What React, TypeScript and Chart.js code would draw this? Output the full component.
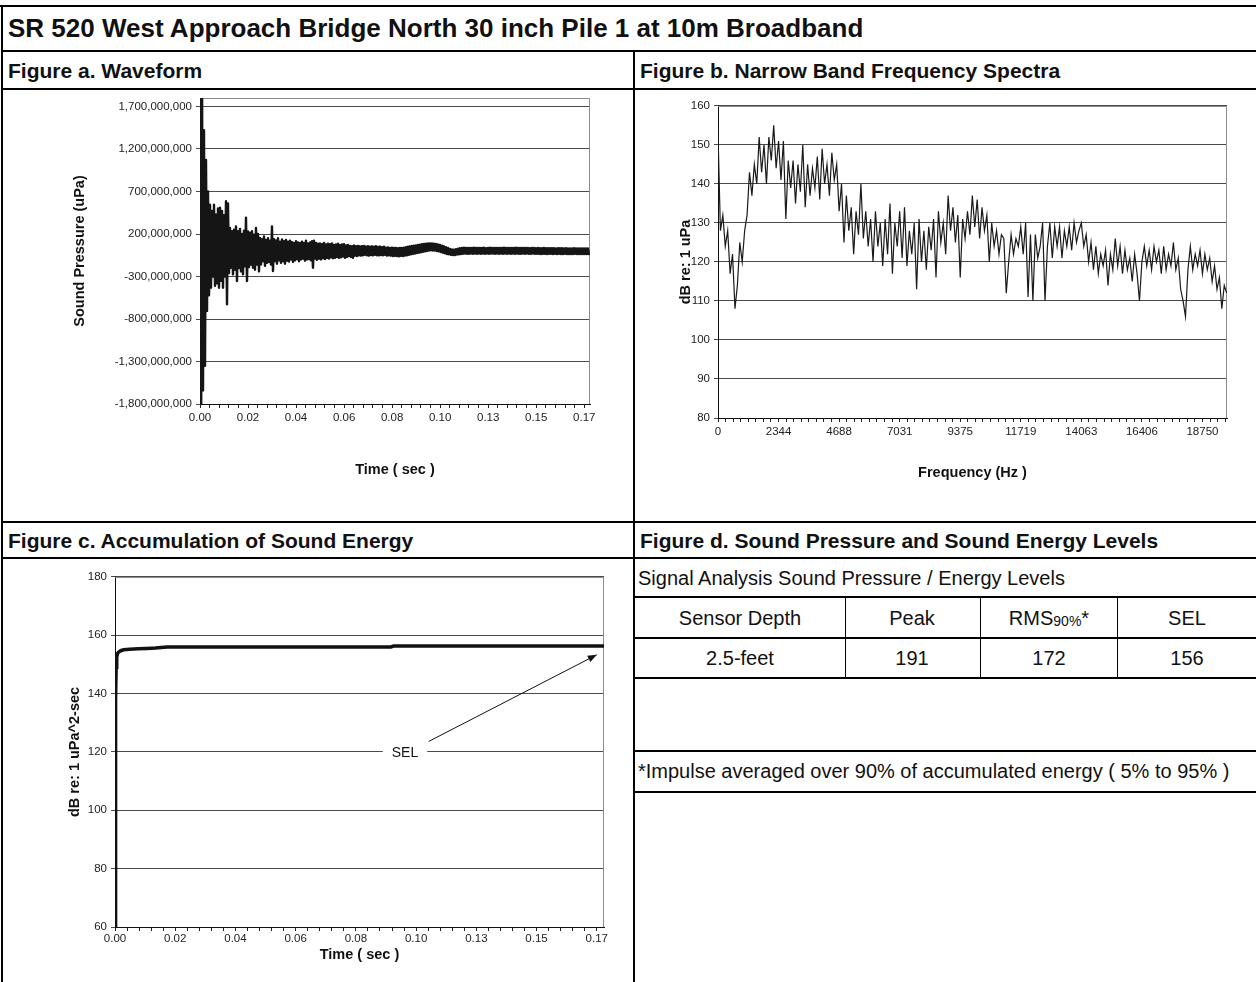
import React, { useEffect, useRef } from "react";
import { Chart, registerables } from "chart.js";

Chart.register(...registerables);

const FONT = "'Liberation Sans', Arial, Helvetica, sans-serif";

// ---------- Figure a: waveform (values in millions of uPa, alternating peaks/troughs) ----------
const waveformStepSec = 0.000434;
const waveformMillionUPa = [
  3500, -2900, 2200, -1640, 1420, -1350, 1070, -705, 700, -520,
  545, -431, 470, -300, 545, -410, 430, -380, 500, -431,
  508, -350, 470, -431, 420, -300, 586, -626, 560, -260,
  271, -197, 232, -275, 250, -220, 290, -353, 232, -200,
  260, -240, 200, -275, 240, -180, 392, -353, 230, -190,
  215, -160, 232, -197, 193, -220, 271, -160, 200, -240,
  154, -158, 140, -120, 170, -175, 130, -140, 150, -130,
  120, -160, 290, -236, 140, -120, 125, -150, 150, -110,
  110, -140, 135, -120, 115, -150, 130, -115, 110, -125,
  120, -100, 105, -130, 96, -110, 115, -95, 100, -120,
  95, -100, 110, -90, 96, -115, 120, -100, 90, -95,
  100, -110, 115, -197, 120, -90, 95, -105, 85, -90,
  90, -100, 80, -85, 96, -95, 76, -80, 85, -90,
  80, -75, 90, -85, 70, -80, 76, -70, 85, -80,
  70, -75, 76, -65, 80, -80, 65, -70, 70, -60,
  60, -70, 57, -80, 65, -55, 57, -60, 60, -50,
  55, -55, 57, -50, 60, -45, 52, -50, 57, -55,
  50, -47, 55, -52, 50, -45, 57, -50, 48, -52,
  52, -48, 45, -50, 50, -45, 40, -55, 42, -50,
  37, -55, 40, -60, 35, -58, 37, -60, 33, -62,
  37, -58, 35, -60, 40, -55, 45, -50, 50, -45,
  55, -40, 60, -35, 62, -30, 66, -25, 70, -20,
  75, -15, 80, -10, 84, -5, 86, 0, 88, 5,
  90, 8, 88, 6, 86, 4, 82, 0, 76, -5,
  70, -12, 62, -20, 55, -28, 45, -35, 35, -40,
  25, -45, 18, -47, 15, -47, 20, -42, 28, -38,
  33, -35, 37, -33, 38, -31, 37, -33, 36, -32,
  37, -31, 35, -33, 38, -30, 36, -32, 37, -31,
  35, -33, 37, -30, 38, -32, 34, -31, 36, -33,
  38, -30, 35, -31, 37, -33, 36, -30, 35, -32,
  37, -31, 36, -33, 38, -30, 35, -32, 37, -31,
  36, -33, 35, -30, 37, -32, 38, -31, 36, -33,
  35, -32, 37, -30, 36, -33, 35, -31, 37, -32,
  34, -33, 36, -31, 35, -34, 33, -32, 35, -33,
  34, -35, 33, -33, 35, -34, 32, -35, 34, -33,
  33, -34, 32, -35, 34, -33, 31, -36, 33, -34,
  32, -35, 33, -36, 31, -34, 32, -35, 30, -36,
  31, -35, 30, -36, 32, -34, 31, -36, 30, -35,
  31, -36, 30, -35, 29, -36, 31, -35, 30, -36,
];
const pressureAxisMin = -1800000000;
const pressureAxisMax = 1800000000;
const pressureTicks = [-1800000000, -1300000000, -800000000, -300000000, 200000000, 700000000, 1200000000, 1700000000];

// shared time axis (Excel category labels)
const timeLabelStepSec = 0.02085;
const timeMinorPerLabel = 5;
const timeAxisMaxSec = 0.1693;

// ---------- Figure b: narrow band spectrum ----------
const spectrumStepHz = 93.75;
const spectrumDb = [
  153, 128, 132, 124, 128, 117, 122, 108, 114, 125,
  120, 128, 132, 143, 137, 145, 140, 152, 143, 150,
  140, 152, 146, 155, 144, 151, 141, 151, 131, 146,
  139, 146, 135, 145, 138, 150, 134, 145, 137, 144,
  139, 147, 136, 149, 140, 145, 137, 148, 141, 145,
  133, 140, 125, 137, 128, 134, 122, 133, 127, 140,
  126, 133, 124, 131, 120, 133, 124, 130, 119, 131,
  122, 135, 117, 130, 124, 133, 121, 134, 119, 128,
  122, 130, 113, 131, 120, 128, 118, 129, 123, 131,
  116, 133, 125, 130, 122, 137, 128, 134, 125, 132,
  116, 131, 126, 133, 127, 137, 129, 136, 126, 134,
  128, 132, 120, 130, 124, 128, 122, 127, 126, 112,
  120, 127, 122, 126, 124, 129, 122, 130, 111, 127,
  110, 127, 121, 124, 130, 110, 124, 130, 121, 129,
  124, 129, 121, 128, 124, 129, 123, 130, 125, 128,
  130, 124, 127, 120, 125, 118, 124, 117, 122, 119,
  123, 114, 122, 118, 126, 119, 124, 117, 123, 118,
  121, 115, 122, 117, 110, 120, 124, 119, 123, 118,
  124, 120, 123, 117, 124, 118, 122, 119, 125, 118,
  121, 113, 110, 106, 118, 124, 118, 122, 119, 123,
  117, 122, 118, 121, 115, 119, 113, 116, 108, 114, 112,
];
const freqLabelStepHz = 2343.75;
const freqMinorPerLabel = 8;
const freqAxisMaxHz = 19700;
const spectrumTicksDb = [80, 90, 100, 110, 120, 130, 140, 150, 160];

// ---------- Figure c: accumulated sound energy ----------
const selTimeSec = [0, 0.0002, 0.0004, 0.0006, 0.0009, 0.0014, 0.002, 0.003, 0.005, 0.008, 0.011, 0.014, 0.018, 0.04, 0.07, 0.0955, 0.0965, 0.13, 0.1693];
const selCurveDb = [60, 138.5, 149, 152.5, 153.8, 154.3, 154.7, 155.0, 155.2, 155.4, 155.5, 155.6, 156.0, 156.0, 156.0, 156.0, 156.3, 156.3, 156.3];
const selTicksDb = [60, 80, 100, 120, 140, 160, 180];
const selNoteText = "SEL";
const selNoteLabel = { t: 0.1004, db: 120 };
const selNoteArrowFrom = { t: 0.1086, db: 123.6 };
const selNoteArrowTo = { t: 0.1668, db: 153.3 };

// ---------- Figure d: table ----------
const tableCaption = "Signal Analysis Sound Pressure / Energy Levels";
const tableHeaders = ["Sensor Depth", "Peak", "RMS", "SEL"];
const tableValues = ["2.5-feet", "191", "172", "156"];
const footnote = "*Impulse averaged over 90% of accumulated energy ( 5% to 95% )";

// ---------- helpers ----------
const TICK_FONT = { family: FONT, size: 11.5 };

function minorTicks(step: number, perLabel: number, max: number) {
  const out: number[] = [];
  const minor = step / perLabel;
  for (let k = 0; k * minor <= max + 1e-9; k++) out.push((k / perLabel) * step);
  return out;
}
function isMajor(v: number, step: number) {
  const r = v / step;
  return Math.abs(r - Math.round(r)) < 1e-6;
}

type Rect = { left: number; top: number; right: number; bottom: number };

const framePlugin = {
  id: "plotFrame",
  beforeDatasetsDraw(chart: any) {
    const { ctx, chartArea } = chart;
    const { left, top, right, bottom } = chartArea;
    ctx.save();
    ctx.strokeStyle = "#8c8c8c";
    ctx.lineWidth = 1;
    ctx.beginPath();
    ctx.moveTo(left, Math.round(top) + 0.5);
    ctx.lineTo(Math.round(right) - 0.5, Math.round(top) + 0.5);
    ctx.lineTo(Math.round(right) - 0.5, bottom);
    ctx.stroke();
    ctx.restore();
  },
};

const selNotePlugin = {
  id: "selNote",
  afterDatasetsDraw(chart: any) {
    const xs = chart.scales.x;
    const ys = chart.scales.y;
    const ctx = chart.ctx;
    const x0 = xs.getPixelForValue(selNoteArrowFrom.t);
    const y0 = ys.getPixelForValue(selNoteArrowFrom.db);
    const x1 = xs.getPixelForValue(selNoteArrowTo.t);
    const y1 = ys.getPixelForValue(selNoteArrowTo.db);
    ctx.save();
    ctx.strokeStyle = "#111";
    ctx.fillStyle = "#111";
    ctx.lineWidth = 1;
    ctx.beginPath();
    ctx.moveTo(x0, y0);
    ctx.lineTo(x1, y1);
    ctx.stroke();
    const ang = Math.atan2(y1 - y0, x1 - x0);
    const len = 9;
    const wid = 3.5;
    ctx.beginPath();
    ctx.moveTo(x1, y1);
    ctx.lineTo(x1 - len * Math.cos(ang) + wid * Math.sin(ang), y1 - len * Math.sin(ang) - wid * Math.cos(ang));
    ctx.lineTo(x1 - len * Math.cos(ang) - wid * Math.sin(ang), y1 - len * Math.sin(ang) + wid * Math.cos(ang));
    ctx.closePath();
    ctx.fill();
    const lx = xs.getPixelForValue(selNoteLabel.t);
    const ly = ys.getPixelForValue(selNoteLabel.db);
    ctx.font = `14px ${FONT}`;
    const w = ctx.measureText(selNoteText).width;
    ctx.fillStyle = "#fff";
    ctx.fillRect(lx - w / 2 - 9, ly - 8, w + 18, 16);
    ctx.fillStyle = "#111";
    ctx.textAlign = "center";
    ctx.textBaseline = "middle";
    ctx.fillText(selNoteText, lx, ly + 1);
    ctx.restore();
  },
};

function makeScales(opts: {
  canvas: Rect;
  plot: Rect;
  xTicks: number[];
  xFormat: (v: number) => string;
  xMax: number;
  yMin: number;
  yMax: number;
  yTicks: number[];
  yFormat: (v: number) => string;
  xTitle: string;
  yTitle: string;
  xTitleY: number;
  yTitleX: number;
  xTickPad: number;
}) {
  const { canvas, plot } = opts;
  const titleFont = { family: FONT, size: 14.5, weight: "bold" as const, lineHeight: 1.2 };
  const half = (14.5 * 1.2) / 2;
  return {
    x: {
      type: "linear" as const,
      min: 0,
      max: opts.xMax,
      afterBuildTicks: (s: any) => {
        s.ticks = opts.xTicks.map((v) => ({ value: v }));
      },
      afterFit: (s: any) => {
        s.height = canvas.bottom - plot.bottom;
      },
      ticks: {
        autoSkip: false,
        maxRotation: 0,
        minRotation: 0,
        padding: opts.xTickPad,
        color: "#222",
        font: TICK_FONT,
        callback: (v: any) => opts.xFormat(Number(v)),
      },
      grid: { drawOnChartArea: false, drawTicks: true, tickLength: 4, color: "#222", lineWidth: 1 },
      border: { display: true, color: "#111", width: 1 },
      title: {
        display: true,
        text: opts.xTitle,
        color: "#111",
        font: titleFont,
        padding: { top: 0, bottom: canvas.bottom - opts.xTitleY - half },
      },
    },
    y: {
      type: "linear" as const,
      min: opts.yMin,
      max: opts.yMax,
      afterBuildTicks: (s: any) => {
        s.ticks = opts.yTicks.map((v) => ({ value: v }));
      },
      afterFit: (s: any) => {
        s.width = plot.left - canvas.left;
      },
      ticks: {
        padding: 4,
        color: "#222",
        font: TICK_FONT,
        callback: (v: any) => opts.yFormat(Number(v)),
      },
      grid: { drawOnChartArea: true, drawTicks: true, tickLength: 4, color: "#4a4a4a", lineWidth: 1 },
      border: { display: true, color: "#111", width: 1 },
      title: {
        display: true,
        text: opts.yTitle,
        color: "#111",
        font: titleFont,
        padding: { top: opts.yTitleX - canvas.left - half, bottom: 0 },
      },
    },
  };
}

function ChartCanvas({ canvas, plot, build }: { canvas: Rect; plot: Rect; build: () => any }) {
  const ref = useRef<HTMLCanvasElement | null>(null);
  useEffect(() => {
    if (!ref.current) return;
    const cfg = build();
    cfg.options = {
      ...cfg.options,
      responsive: false,
      maintainAspectRatio: false,
      animation: false,
      devicePixelRatio: 1,
      events: [],
      layout: {
        padding: {
          left: 0,
          top: plot.top - canvas.top,
          right: canvas.right - plot.right,
          bottom: 0,
        },
      },
      plugins: { legend: { display: false }, tooltip: { enabled: false }, title: { display: false } },
    };
    const chart = new Chart(ref.current, cfg);
    return () => chart.destroy();
  }, []);
  const w = canvas.right - canvas.left;
  const h = canvas.bottom - canvas.top;
  return (
    <canvas
      ref={ref}
      width={w}
      height={h}
      style={{ position: "absolute", left: canvas.left, top: canvas.top, width: w, height: h, display: "block" }}
    />
  );
}

// ---------- chart configs ----------
const waveCanvas: Rect = { left: 56, top: 86, right: 606, bottom: 486 };
const wavePlot: Rect = { left: 200, top: 98, right: 590, bottom: 404 };

function buildWaveform() {
  const data = waveformMillionUPa.map((v, i) => ({ x: i * waveformStepSec, y: v * 1000000 }));
  return {
    type: "line",
    data: {
      datasets: [
        {
          data,
          borderColor: "#151515",
          borderWidth: 2.4,
          borderJoinStyle: "round",
          borderCapStyle: "round",
          pointRadius: 0,
          tension: 0,
          fill: false,
        },
      ],
    },
    options: {
      scales: makeScales({
        canvas: waveCanvas,
        plot: wavePlot,
        xTicks: minorTicks(timeLabelStepSec, timeMinorPerLabel, timeAxisMaxSec),
        xFormat: (v) => (isMajor(v, timeLabelStepSec) ? v.toFixed(2) : ""),
        xMax: timeAxisMaxSec,
        yMin: pressureAxisMin,
        yMax: pressureAxisMax,
        yTicks: pressureTicks,
        yFormat: (v) => Math.round(v).toLocaleString("en-US"),
        xTitle: "Time ( sec )",
        yTitle: "Sound Pressure (uPa)",
        xTitleY: 470,
        yTitleX: 80,
        xTickPad: 3,
      }),
    },
    plugins: [framePlugin],
  };
}

const specCanvas: Rect = { left: 668, top: 95, right: 1242, bottom: 488 };
const specPlot: Rect = { left: 718, top: 105, right: 1227, bottom: 418 };

function buildSpectrum() {
  const data = spectrumDb.map((v, i) => ({ x: i * spectrumStepHz, y: v }));
  return {
    type: "line",
    data: {
      datasets: [{ data, borderColor: "#1a1a1a", borderWidth: 1.2, pointRadius: 0, tension: 0, fill: false }],
    },
    options: {
      scales: makeScales({
        canvas: specCanvas,
        plot: specPlot,
        xTicks: minorTicks(freqLabelStepHz, freqMinorPerLabel, freqAxisMaxHz),
        xFormat: (v) => (isMajor(v, freqLabelStepHz) ? String(Math.round(v)) : ""),
        xMax: freqAxisMaxHz,
        yMin: 80,
        yMax: 160,
        yTicks: spectrumTicksDb,
        yFormat: (v) => String(v),
        xTitle: "Frequency (Hz )",
        yTitle: "dB re: 1 uPa",
        xTitleY: 473,
        yTitleX: 686,
        xTickPad: 3,
      }),
    },
    plugins: [framePlugin],
  };
}

const selCanvas: Rect = { left: 52, top: 566, right: 620, bottom: 966 };
const selPlot: Rect = { left: 115, top: 576, right: 604, bottom: 927 };

function buildSel() {
  const data = selTimeSec.map((t, i) => ({ x: t, y: selCurveDb[i] }));
  return {
    type: "line",
    data: {
      datasets: [{ data, borderColor: "#111", borderWidth: 3.5, pointRadius: 0, tension: 0, fill: false }],
    },
    options: {
      scales: makeScales({
        canvas: selCanvas,
        plot: selPlot,
        xTicks: minorTicks(timeLabelStepSec, timeMinorPerLabel, timeAxisMaxSec),
        xFormat: (v) => (isMajor(v, timeLabelStepSec) ? v.toFixed(2) : ""),
        xMax: timeAxisMaxSec,
        yMin: 60,
        yMax: 180,
        yTicks: selTicksDb,
        yFormat: (v) => String(v),
        xTitle: "Time ( sec )",
        yTitle: "dB re: 1 uPa^2-sec",
        xTitleY: 955,
        yTitleX: 75,
        xTickPad: 1,
      }),
    },
    plugins: [framePlugin, selNotePlugin],
  };
}

// ---------- layout pieces ----------
function HLine({ x1, x2, y, w = 2 }: { x1: number; x2: number; y: number; w?: number }) {
  return <div style={{ position: "absolute", left: x1, top: y, width: x2 - x1, height: w, background: "#000" }} />;
}
function VLine({ x, y1, y2, w = 2 }: { x: number; y1: number; y2: number; w?: number }) {
  return <div style={{ position: "absolute", left: x, top: y1, width: w, height: y2 - y1, background: "#000" }} />;
}
function Txt({
  x,
  y,
  size,
  bold,
  center,
  children,
}: {
  x: number;
  y: number;
  size: number;
  bold?: boolean;
  center?: boolean;
  children: React.ReactNode;
}) {
  const lh = Math.round(size * 1.3);
  return (
    <div
      style={{
        position: "absolute",
        left: center ? x - 200 : x,
        width: center ? 400 : undefined,
        textAlign: center ? "center" : "left",
        top: y - lh / 2,
        height: lh,
        lineHeight: `${lh}px`,
        fontSize: size,
        fontWeight: bold ? 700 : 400,
        whiteSpace: "nowrap",
        color: "#111",
      }}
    >
      {children}
    </div>
  );
}

const colCenters = [740, 912, 1049, 1187];

export default function App() {
  return (
    <div
      style={{
        position: "absolute",
        left: 0,
        top: 0,
        width: 1256,
        height: 982,
        background: "#fff",
        fontFamily: FONT,
        overflow: "hidden",
      }}
    >
      {/* frame lines */}
      <HLine x1={0} x2={1256} y={5} />
      <VLine x={1} y1={5} y2={982} />
      <HLine x1={1} x2={1256} y={50} />
      <HLine x1={1} x2={1256} y={88} />
      <VLine x={633} y1={50} y2={982} />
      <HLine x1={1} x2={1256} y={521} />
      <HLine x1={1} x2={1256} y={557} />
      <HLine x1={633} x2={1256} y={596} />
      <HLine x1={633} x2={1256} y={637} />
      <HLine x1={633} x2={1256} y={677} />
      <HLine x1={633} x2={1256} y={750} />
      <HLine x1={633} x2={1256} y={791} />
      <VLine x={845} y1={596} y2={678} w={1} />
      <VLine x={980} y1={596} y2={678} w={1} />
      <VLine x={1117} y1={596} y2={678} w={1} />

      {/* titles */}
      <Txt x={8} y={28} size={26} bold>
        SR 520 West Approach Bridge North 30 inch Pile 1 at 10m Broadband
      </Txt>
      <Txt x={8} y={70} size={21} bold>
        Figure a. Waveform
      </Txt>
      <Txt x={640} y={70} size={21} bold>
        Figure b. Narrow Band Frequency Spectra
      </Txt>
      <Txt x={8} y={540} size={21} bold>
        Figure c. Accumulation of Sound Energy
      </Txt>
      <Txt x={640} y={540} size={21} bold>
        Figure d. Sound Pressure and Sound Energy Levels
      </Txt>

      {/* table */}
      <Txt x={638} y={578} size={20}>
        {tableCaption}
      </Txt>
      {tableHeaders.map((h, i) => (
        <Txt key={"h" + i} x={colCenters[i]} y={618} size={20} center>
          {h === "RMS" ? (
            <span>
              RMS<span style={{ fontSize: 14, position: "relative", top: 1 }}>90%</span>*
            </span>
          ) : (
            h
          )}
        </Txt>
      ))}
      {tableValues.map((v, i) => (
        <Txt key={"v" + i} x={colCenters[i]} y={658} size={20} center>
          {v}
        </Txt>
      ))}
      <Txt x={638} y={771} size={20}>
        {footnote}
      </Txt>

      {/* charts */}
      <ChartCanvas canvas={waveCanvas} plot={wavePlot} build={buildWaveform} />
      <ChartCanvas canvas={specCanvas} plot={specPlot} build={buildSpectrum} />
      <ChartCanvas canvas={selCanvas} plot={selPlot} build={buildSel} />
    </div>
  );
}
